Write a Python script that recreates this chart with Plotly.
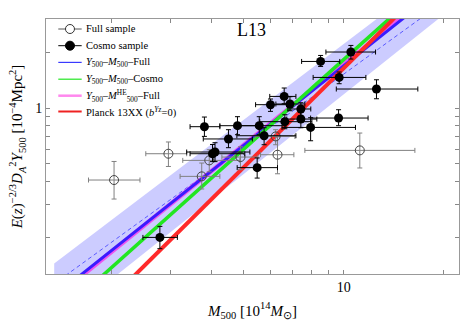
import numpy as np
import plotly.graph_objects as go

# ---------------- data ----------------
# Full sample only (open circles)
full_mass = [2.03, 2.96, 3.93, 3.73, 4.88, 6.23, 6.31, 11.17]
full_mass_lo = [1.70, 2.53, 3.27, 3.21, 4.29, 5.40, 5.61, 7.63]
full_mass_hi = [2.43, 3.36, 4.86, 4.23, 5.51, 7.12, 7.07, 16.37]
full_y = [0.409, 0.567, 0.522, 0.428, 0.544, 0.703, 0.560, 0.591]
full_y_lo = [0.323, 0.484, 0.453, 0.366, 0.465, 0.634, 0.442, 0.475]
full_y_hi = [0.515, 0.656, 0.596, 0.505, 0.618, 0.764, 0.700, 0.733]

# Cosmo sample (filled circles)
cosmo_mass = [10.50, 8.51, 9.68, 12.54, 6.61, 6.01, 6.88, 7.42, 7.42, 9.64,
              6.64, 7.94, 5.56, 4.78, 5.75, 4.49, 5.48, 3.80, 4.09, 4.02, 2.79]
cosmo_mass_lo = [8.83, 7.46, 8.08, 9.49, 5.98, 5.42, 6.24, 6.78, 6.73, 7.94,
                 5.58, 6.51, 4.70, 4.23, 4.76, 3.77, 4.77, 3.44, 3.36, 3.44, 2.48]
cosmo_mass_hi = [12.46, 9.72, 11.65, 16.71, 7.17, 6.72, 7.63, 7.95, 8.29, 11.83,
                 8.01, 10.84, 6.69, 5.51, 7.17, 5.30, 6.31, 4.23, 5.21, 5.03, 3.15]
cosmo_y = [2.004, 1.783, 1.462, 1.266, 1.155, 1.042, 1.051, 0.988, 0.872, 0.883,
           0.844, 0.786, 0.803, 0.803, 0.709, 0.681, 0.477, 0.793, 0.579, 0.567, 0.2006]
cosmo_y_lo = [1.837, 1.676, 1.352, 1.122, 1.055, 0.959, 0.967, 0.909, 0.783, 0.803,
              0.773, 0.666, 0.718, 0.718, 0.634, 0.611, 0.419, 0.703, 0.514, 0.514, 0.1744]
cosmo_y_hi = [2.175, 1.921, 1.564, 1.420, 1.282, 1.118, 1.151, 1.068, 0.955, 0.979,
              0.920, 0.887, 0.898, 0.898, 0.783, 0.764, 0.538, 0.894, 0.650, 0.636, 0.230]

# Scaling-relation fits: Y = norm * (M / pivot)^slope
pivot_mass = 6.0
fit_full_norm, fit_full_slope = 0.818, 1.424
fit_he_norm, fit_he_slope = 0.824, 1.445
fit_cosmo_norm, fit_cosmo_slope = 0.806, 1.603
fit_planck_norm, fit_planck_slope = 0.664, 1.773
fit_dash_norm, fit_dash_slope = 0.787, 1.296
band_up_norm, band_up_slope = 1.109, 1.357
band_lo_norm, band_lo_slope = 0.5735, 1.425
band_mass_min, band_mass_max = 1.34, 25.0

x_major_ticks = [10]
x_minor_ticks = [2, 3, 4, 5, 6, 7, 8, 9, 20]
y_major_ticks = [1]
y_minor_ticks = [0.2, 0.3, 0.4, 0.5, 0.6, 0.7, 0.8, 0.9, 2]

legend_labels = [
    'Full sample',
    'Cosmo sample',
    '<i>Y</i><sub>500</sub>\u2013<i>M</i><sub>500</sub>\u2013Full',
    '<i>Y</i><sub>500</sub>\u2013<i>M</i><sub>500</sub>\u2013Cosmo',
    '<i>Y</i><sub>500</sub>\u2013<i>M</i><sup>HE</sup><sub>500</sub>\u2013Full',
    'Planck 13XX (<i>b</i><sup><i>Y</i>z</sup>=0)',
]

# ---------------- figure ----------------
SERIF = "Liberation Serif, Times New Roman, serif"
W, H = 464, 328
ML, MR, MT, MB = 46, 4.7, 19.3, 53.7
PW, PH = W - ML - MR, H - MT - MB


def px_x(px):
    return (px - ML) / PW


def px_y(py):
    return (H - MB - py) / PH


def model(m, norm, slope):
    return norm * (np.asarray(m) / pivot_mass) ** slope


def errs(v, lo, hi):
    v = np.asarray(v); lo = np.asarray(lo); hi = np.asarray(hi)
    return hi - v, v - lo


mgrid = np.logspace(np.log10(1.1), np.log10(26), 200)
bgrid = np.logspace(np.log10(band_mass_min), np.log10(band_mass_max), 200)

fig = go.Figure()

# band
fig.add_trace(go.Scatter(
    x=np.concatenate([bgrid, bgrid[::-1]]),
    y=np.concatenate([model(bgrid, band_up_norm, band_up_slope),
                      model(bgrid[::-1], band_lo_norm, band_lo_slope)]),
    fill='toself', fillcolor='rgba(120,120,255,0.38)', line=dict(width=0),
    mode='lines', showlegend=False, hoverinfo='skip'))

fig.add_trace(go.Scatter(x=mgrid, y=model(mgrid, fit_dash_norm, fit_dash_slope), mode='lines',
                         line=dict(color='#5a5aff', width=1, dash='4px,3px'), showlegend=False))
fig.add_trace(go.Scatter(x=mgrid, y=model(mgrid, fit_he_norm, fit_he_slope), mode='lines',
                         line=dict(color='#ee55ee', width=4.5), showlegend=False))
fig.add_trace(go.Scatter(x=mgrid, y=model(mgrid, fit_full_norm, fit_full_slope), mode='lines',
                         line=dict(color='#3a1cff', width=3), showlegend=False))
fig.add_trace(go.Scatter(x=mgrid, y=model(mgrid, fit_cosmo_norm, fit_cosmo_slope), mode='lines',
                         line=dict(color='#22e622', width=3.5), showlegend=False))
fig.add_trace(go.Scatter(x=mgrid, y=model(mgrid, fit_planck_norm, fit_planck_slope), mode='lines',
                         line=dict(color='#ff2a2a', width=4), showlegend=False))

fx_p, fx_m = errs(full_mass, full_mass_lo, full_mass_hi)
fy_p, fy_m = errs(full_y, full_y_lo, full_y_hi)
fig.add_trace(go.Scatter(
    x=full_mass, y=full_y, mode='markers', showlegend=False,
    marker=dict(symbol='circle-open', size=9, color='#444444', line=dict(width=1)),
    error_x=dict(type='data', array=fx_p, arrayminus=fx_m, color='#808080', thickness=1, width=2.5),
    error_y=dict(type='data', array=fy_p, arrayminus=fy_m, color='#808080', thickness=1, width=2.5)))

cx_p, cx_m = errs(cosmo_mass, cosmo_mass_lo, cosmo_mass_hi)
cy_p, cy_m = errs(cosmo_y, cosmo_y_lo, cosmo_y_hi)
fig.add_trace(go.Scatter(
    x=cosmo_mass, y=cosmo_y, mode='markers', showlegend=False,
    marker=dict(symbol='circle', size=9, color='black'),
    error_x=dict(type='data', array=cx_p, arrayminus=cx_m, color='black', thickness=1, width=2.5),
    error_y=dict(type='data', array=cy_p, arrayminus=cy_m, color='black', thickness=1, width=2.5)))

# ---- hand-built legend (shapes + text) ----
row_py = [29.3, 46.0, 62.7, 79.5, 96.0, 111.8]
sym_x0, sym_x1, sym_xc, text_x = px_x(58.3), px_x(81.7), px_x(70.0), px_x(84.3)
legend_styles = [
    dict(color='#555555', width=1, marker='open'),
    dict(color='black', width=1, marker='filled'),
    dict(color='#3a3aff', width=1.2, marker=None),
    dict(color='#22e622', width=1.2, marker=None),
    dict(color='#ff88ee', width=2.5, marker=None),
    dict(color='#ee2222', width=2, marker=None),
]
for label, py, st in zip(legend_labels, row_py, legend_styles):
    yy = px_y(py)
    fig.add_shape(type='line', xref='paper', yref='paper', x0=sym_x0, x1=sym_x1, y0=yy, y1=yy,
                  line=dict(color=st['color'], width=st['width']))
    if st['marker']:
        fill = 'white' if st['marker'] == 'open' else 'black'
        fig.add_shape(type='circle', xref='paper', yref='paper', xsizemode='pixel', ysizemode='pixel',
                      xanchor=sym_xc, yanchor=yy, x0=-4.5, x1=4.5, y0=-4.5, y1=4.5,
                      fillcolor=fill, line=dict(color='#333333' if st['marker'] == 'open' else 'black', width=1))
    fig.add_annotation(text=label, x=text_x, y=yy, xref='paper', yref='paper', xanchor='left',
                       yanchor='middle', showarrow=False,
                       font=dict(family=SERIF, size=10.5, color='black'))

fig.add_annotation(text='L13', x=px_x(252), y=px_y(30.5), xref='paper', yref='paper',
                   xanchor='center', yanchor='middle',
                   showarrow=False, font=dict(family=SERIF, size=18, color='black'))

axis_common = dict(type='log', showgrid=False, zeroline=False, showline=True,
                   linecolor='#999999', linewidth=1, mirror='ticks', ticks='inside',
                   ticklen=4, tickcolor='#888888', tickwidth=1,
                   tickfont=dict(family=SERIF, size=14, color='black'),
                   tickmode='array')

fig.update_xaxes(**axis_common, range=[0.1024, 1.347], tickvals=x_major_ticks, ticktext=['10'],
                 minor=dict(tickmode='array', tickvals=x_minor_ticks, ticks='inside', ticklen=4,
                            tickcolor='#888888', tickwidth=1, showgrid=False),
                 title=dict(text='<i>M</i><sub>500</sub> [10<sup>14</sup><i>M</i><sub>\u2299</sub>]',
                            font=dict(family=SERIF, size=15, color='black'), standoff=11))
fig.update_yaxes(**axis_common, range=[-0.895, 0.48], tickvals=y_major_ticks, ticktext=['1'],
                 minor=dict(tickmode='array', tickvals=y_minor_ticks, ticks='inside', ticklen=4,
                            tickcolor='#888888', tickwidth=1, showgrid=False),
                 title=dict(text='<i>E</i>(<i>z</i>)<sup>\u22122/3</sup><i>D</i><sub><i>A</i></sub><sup>2</sup><i>Y</i><sub>500</sub> [10<sup>\u22124</sup>Mpc<sup>2</sup>]',
                            font=dict(family=SERIF, size=15, color='black'), standoff=8))

fig.update_layout(
    width=W, height=H,
    margin=dict(l=ML, r=MR, t=MT, b=MB, autoexpand=False),
    paper_bgcolor='white', plot_bgcolor='white',
    showlegend=False,
    font=dict(family=SERIF),
)

fig.write_html("out.html", config={'displayModeBar': False},
               post_script="document.body.style.margin='0';document.body.style.padding='0';")
